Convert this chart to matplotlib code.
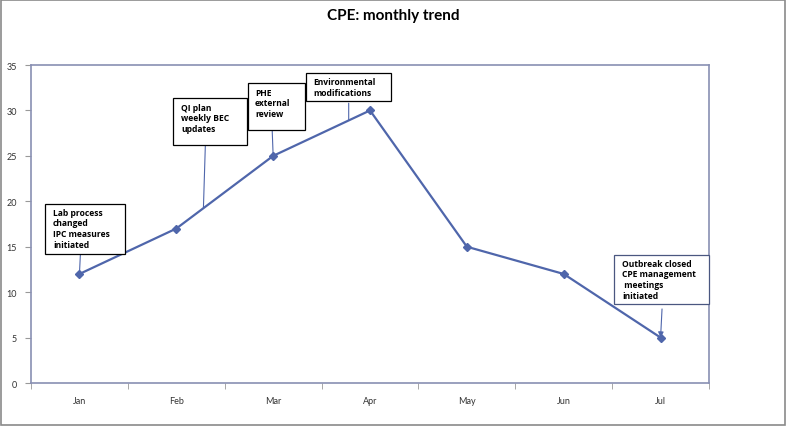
import numpy as np
import matplotlib.pyplot as plt
from matplotlib.patches import Rectangle

plt.rcParams['font.family'] = ['Lato', 'DejaVu Sans']

months = ['Jan', 'Feb', 'Mar', 'Apr', 'May', 'Jun', 'Jul']
cases = [12, 17, 25, 30, 15, 12, 5]

notes = ['Lab process\nchanged\nIPC measures\ninitiated',
         'QI plan\nweekly BEC\nupdates',
         'PHE\nexternal\nreview',
         'Environmental\nmodifications',
         'Outbreak closed\nCPE management\n meetings\ninitiated']
# month position each note points at (on the line)
note_x = [0, 1.28, 2, 2.78, 6]

line_col = '#4f66ab'
spine_col = '#8990b3'

fig = plt.figure(figsize=(7.87, 4.27), dpi=100)
ax = fig.add_axes([0.0394, 0.1007, 0.8615, 0.7447])

x = np.arange(len(months))
ax.plot(x, cases, color=line_col, lw=1.6, marker='D', ms=4.5, zorder=3)

ax.set_xlim(-0.5, 6.5)
ax.set_ylim(0, 35)
ax.set_yticks(range(0, 36, 5))
ax.set_xticks(x)
ax.set_xticklabels(months)
ax.set_xticks(np.arange(-0.5, 7, 1), minor=True)
ax.tick_params(axis='x', which='major', length=0, pad=9, labelsize=6.5, colors='#333333')
ax.tick_params(axis='x', which='minor', length=4, color='#999999')
ax.tick_params(axis='y', length=4, color='#999999', labelsize=6.5, colors='#333333', pad=6)
for s in ax.spines.values():
    s.set_color(spine_col)
    s.set_linewidth(1.2)

# annotation boxes: (left, bottom, width, height), text anchor, line start
boxes = [(-0.355, 14.2, 0.825, 5.5), (0.966, 26.19, 0.764, 5.18),
         (1.740, 27.85, 0.589, 5.17), (2.339, 31.04, 0.878, 3.08),
         (5.519, 8.69, 0.981, 5.40)]
text_pos = [(-0.273, 19.3), (1.049, 30.85), (1.813, 32.5), (2.411, 33.7), (5.602, 13.7)]
start = [(0.01, 14.2), (1.30, 26.19), (1.99, 27.85), (2.78, 30.8), (6.015, 8.15)]
edge = ['black', 'black', 'black', 'black', '#4a5780']

for i in range(len(notes)):
    b = boxes[i]
    ax.add_patch(Rectangle((b[0], b[1]), b[2], b[3], facecolor='white',
                           edgecolor=edge[i], lw=0.9, zorder=4, clip_on=False))
    ax.text(text_pos[i][0], text_pos[i][1], notes[i], ha='left', va='top',
            fontsize=6.1, fontweight='bold', linespacing=1.25, zorder=5,
            family=['Open Sans', 'DejaVu Sans'])
    ty = np.interp(note_x[i], x, cases)
    style = '-|>' if i == 4 else '-'
    ax.annotate('', xy=(note_x[i], ty), xytext=start[i],
                arrowprops=dict(arrowstyle=style, color=line_col, lw=0.8,
                                shrinkA=0, shrinkB=0, mutation_scale=8),
                zorder=2)

fig.text(0.5, 0.962, 'CPE: monthly trend', ha='center', va='center',
         fontsize=11, fontweight='bold')

fig.patches.append(Rectangle((0.001, 0.003), 0.997, 0.995, transform=fig.transFigure,
                             fill=False, edgecolor='#8a8a8a', lw=1.2))

fig.savefig('out.png', dpi=100)
